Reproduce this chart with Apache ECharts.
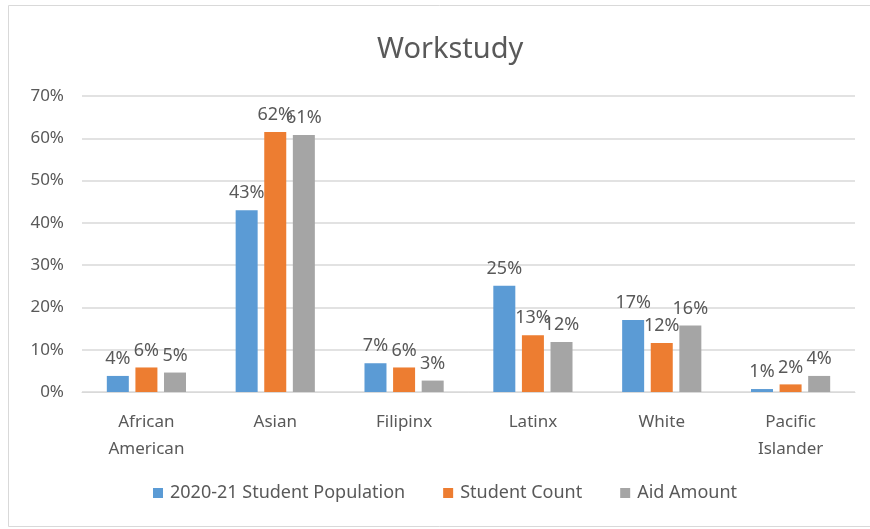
<!DOCTYPE html>
<html>
<head>
<meta charset="utf-8">
<script src="https://cdn.jsdelivr.net/npm/echarts@6/dist/echarts.min.js"></script>
<style>
  html, body { margin: 0; padding: 0; background: #fff; }
  #chart { width: 870px; height: 529px; }
</style>
</head>
<body>
<div id="chart"></div>
<script>
const categories = ['African\nAmerican', 'Asian', 'Filipinx', 'Latinx', 'White', 'Pacific\nIslander'];
const seriesNames = ['2020-21 Student Population', 'Student Count', 'Aid Amount'];
const studentPopulation = [0.038, 0.43, 0.068, 0.251, 0.17, 0.007];
const studentCount = [0.058, 0.615, 0.058, 0.134, 0.116, 0.018];
const aidAmount = [0.046, 0.608, 0.027, 0.118, 0.157, 0.038];
const yTicks = [0, 0.1, 0.2, 0.3, 0.4, 0.5, 0.6, 0.7];

const colors = ['#5B9BD5', '#ED7D31', '#A5A5A5'];
const textColor = '#595959';
const font = 'Noto Sans';

const pct = v => Math.round(v * 100) + '%';

const chart = echarts.init(document.getElementById('chart'), null, { renderer: 'canvas' });

const makeSeries = (name, data, idx) => ({
  type: 'bar',
  name: name,
  data: data,
  color: colors[idx],
  barWidth: 22,
  barGap: '30%',
  label: {
    show: true,
    position: 'top',
    distance: 8,
    formatter: p => pct(p.value),
    color: textColor,
    fontFamily: font,
    fontSize: 18
  }
});

chart.setOption({
  animation: false,
  textStyle: { fontFamily: font },
  graphic: [{
    type: 'rect',
    shape: { x: 8.5, y: 5.5, width: 880, height: 521 },
    style: { fill: 'none', stroke: '#d9d9d9', lineWidth: 1 },
    silent: true
  }],
  title: {
    text: 'Workstudy',
    left: 372,
    top: 30,
    textStyle: { color: textColor, fontFamily: font, fontSize: 29, fontWeight: 'normal' }
  },
  grid: { left: 82, right: 15, top: 96, bottom: 137 },
  xAxis: {
    type: 'category',
    data: categories,
    axisLine: { lineStyle: { color: '#d9d9d9', width: 1 } },
    axisTick: { show: false },
    axisLabel: { color: textColor, fontFamily: font, fontSize: 17, margin: 17, lineHeight: 27 }
  },
  yAxis: {
    type: 'value',
    min: yTicks[0],
    max: yTicks[yTicks.length - 1],
    interval: 0.1,
    axisLine: { show: false },
    axisTick: { show: false },
    splitLine: { lineStyle: { color: '#d9d9d9', width: 1.5 } },
    axisLabel: { color: textColor, fontFamily: font, fontSize: 17, margin: 18, formatter: v => pct(v) }
  },
  legend: {
    bottom: 22,
    left: 148,
    itemWidth: 10,
    itemHeight: 10,
    itemGap: 38,
    icon: 'rect',
    textStyle: { color: textColor, fontFamily: font, fontSize: 18, padding: [0, 0, 0, 2] },
    data: seriesNames
  },
  series: [
    makeSeries(seriesNames[0], studentPopulation, 0),
    makeSeries(seriesNames[1], studentCount, 1),
    makeSeries(seriesNames[2], aidAmount, 2)
  ]
});
</script>
</body>
</html>
